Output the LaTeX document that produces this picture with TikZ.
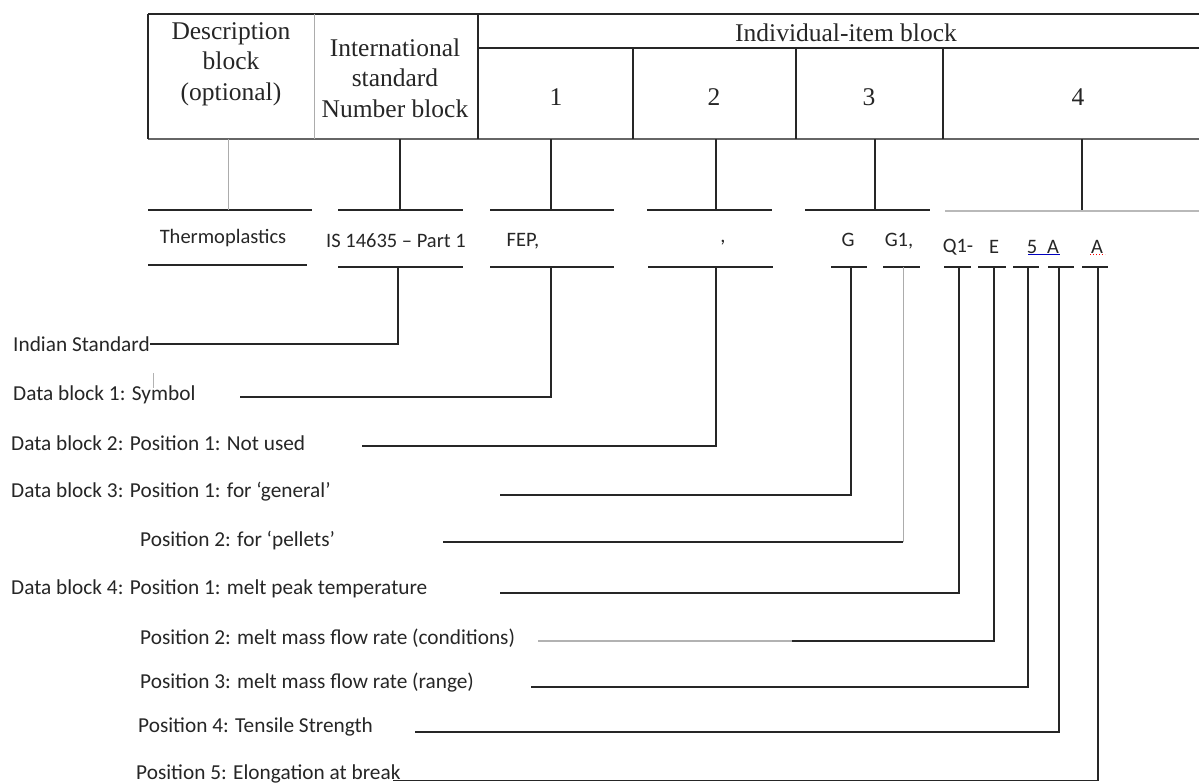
\documentclass[tikz,border=0pt]{standalone}
\usepackage{fontspec}
\setmainfont{Carlito}
\newfontfamily\tabfont{Liberation Serif}
\usetikzlibrary{calc,positioning}

\begin{document}
\begin{tikzpicture}[x=1pt,y=-1pt,
    rule/.style={line width=1.2pt,black!85},
    faint/.style={line width=1pt,gray!65},
    head/.style={font=\tabfont\fontsize{25.5}{30.5}\selectfont,align=center,inner sep=0pt,text=black!85},
    code/.style={font=\fontsize{20.5}{24}\selectfont,inner sep=0pt,text=black!85},
    note/.style={font=\fontsize{21.3}{24}\selectfont,inner sep=0pt,anchor=west,text=black!85}]
    \useasboundingbox (0,0) rectangle (1199,782);

    % table
    \draw[rule] (148,14) -- (1199,14);
    \draw[rule] (478,48) -- (1199,48);
    \draw[line width=1.5pt,black!60] (148,139) -- (1199,139);
    \foreach \x in {148,478} \draw[rule] (\x,14) -- (\x,139);
    \draw[faint] (314,14) -- (314,139);
    \foreach \x in {633,796,943} \draw[rule] (\x,48) -- (\x,139);

    \node[head] (desc) at (231,64) {Description\\block\\(optional)};
    \node[head] (isn) at (395,78) {International\\standard\\Number block};
    \node[head] (item) at (846,33) {Individual-item block};
    \node[head] (col1) at (556,97) {1};
    \node[head] (col2) at (714,97) {2};
    \node[head] (col3) at (869,97) {3};
    \node[head] (col4) at (1078,97) {4};

    % upper bars and stems
    \draw[rule] (148,210) -- (312,210);
    \coordinate (tdesc) at (228,210);
    \draw[faint] (228,139) -- (tdesc);
    \foreach \n/\l/\s/\r in {isn/338/400/463, c1/490/551/614, c2/647/716/772, c3/805/875/930} {
        \draw[rule] (\l,210) -- (\r,210);
        \coordinate (t\n) at (\s,210);
        \draw[rule] (\s,139) -- (t\n);
    }
    \draw[line width=2.8pt,gray!55] (945,211) -- (1199,211);
    \coordinate (tc4) at (1082,210);
    \draw[rule] (1082,139) -- (tc4);

    % designation
    \node[code] (thermo) at (223,238) {Thermoplastics};
    \node[code] (isno) at (396,241) {IS 14635 -- Part 1};
    \node[code] (fep) at (523,241) {FEP,};
    \node[code] (comma) at (723,243) {,};
    \node[code] (g) at (848,240) {G};
    \node[code] (gone) at (899,241) {G1,};
    \node[code] (qone) at (958,247) {Q1-};
    \node[code] (e) at (994,247) {E};
    \node[code] (five) at (1032,247) {5};
    \node[code] (a) at (1053,247) {A};
    \node[code] (aa) at (1097,247) {A};
    \draw[blue!75!black,line width=1pt] (1028,254) -- (1060,254);
    \draw[red,dotted,line width=1pt] (1090,254) -- (1105,254);

    % explanations
    \node[note] (lis) at (13,344) {Indian Standard};
    \node[note] (l1) at (13,395) {Data block 1: Symbol};
    \node[note] (l2) at (11,443) {Data block 2: Position 1: Not used};
    \node[note] (l3) at (11,492) {Data block 3: Position 1: for ‘general’};
    \node[note] (l3b) at (140,541) {Position 2: for ‘pellets’};
    \node[note] (l4) at (11,589) {Data block 4: Position 1: melt peak temperature};
    \node[note] (l4b) at (140,638) {Position 2: melt mass flow rate (conditions)};
    \node[note] (l4c) at (140,683) {Position 3: melt mass flow rate (range)};
    \node[note] (l4d) at (138,727) {Position 4: Tensile Strength};
    \node[note,anchor=base west] (l4e) at (136,779) {Position 5: Elongation at break};
    \draw[gray!60,line width=0.8pt] (153,373) -- (153,388);

    % lower bars and legs
    \draw[rule] (148,265) -- (307,265);
    \draw[rule] (338,267) -- (463,267);
    \coordinate (uisn) at (398,267);
    \draw[rule] (uisn) |- (lis.east);
    \foreach \n/\l/\s/\r/\y/\e in {
        p1/490/551/614/397/240,
        p2/648/716/773/446/362,
        g/831/851/867/495/500,
        q/944/959/971/593/500,
        f/1013/1028/1039/687/531,
        a/1048/1059/1074/732/415,
        b/1082/1098/1108/780.5/393} {
        \draw[rule] (\l,267) -- (\r,267);
        \coordinate (u\n) at (\s,267);
        \coordinate (v\n) at (\e,\y);
        \draw[rule] (u\n) |- (v\n);
    }
    \draw[rule] (883,267) -- (920,267);
    \coordinate (ugone) at (903,267);
    \coordinate (wgone) at (903,542);
    \coordinate (vgone) at (443,542);
    \draw[faint] (ugone) -- (wgone);
    \draw[rule] (wgone) -- (vgone);
    \draw[rule] (978,267) -- (1006,267);
    \coordinate (ue) at (994,267);
    \coordinate (we) at (792,641);
    \coordinate (ve) at (538,641);
    \draw[rule] (ue) |- (we);
    \draw[line width=1.5pt,gray!60] (we) -- (ve);
\end{tikzpicture}
\end{document}
